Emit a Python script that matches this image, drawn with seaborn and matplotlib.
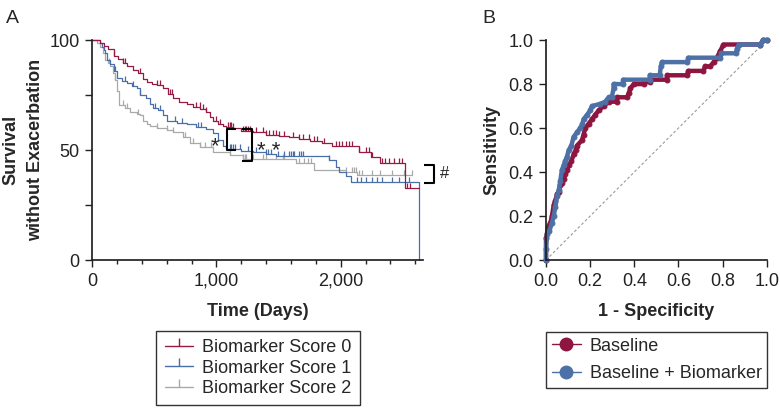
import numpy as np
import matplotlib
matplotlib.use('Agg')
import matplotlib.pyplot as plt
from matplotlib.lines import Line2D
from matplotlib.ticker import MultipleLocator, FixedLocator, FuncFormatter
import seaborn as sns

# ---- Panel A: Kaplan-Meier curves ----
km_labels = ['Biomarker Score 0', 'Biomarker Score 1', 'Biomarker Score 2']
km_colors = ['#961a45', '#4a6fa8', '#a9a9a9']

t_score0 = [0, 67, 100, 130, 173, 210, 250, 280, 330, 373, 410, 440, 480, 520, 573, 610, 653,
            700, 760, 813, 870, 920, 950, 973, 1010, 1050, 1080, 1133, 1200, 1293, 1400, 1507,
            1584, 1667, 1750, 1848, 1928, 2144, 2240, 2320, 2520, 2627]
s_score0 = [100, 98.8, 97.5, 96, 93, 91.5, 89.5, 88, 86.5, 85, 82.5, 81, 80, 79.5, 78, 75.5, 73.5,
            72, 71, 69.7, 68.5, 67.4, 65, 63, 62, 61, 60.5, 60, 58.5, 58, 57, 56.3,
            56, 55, 54, 53.2, 51.8, 49.2, 47, 44, 32.6, 32.6]
c_score0 = [173, 253, 267, 387, 520, 547, 627, 640, 840, 867, 893, 920, 1000, 1027, 1093, 1107,
            1120, 1133, 1213, 1227, 1240, 1253, 1267, 1320, 1373, 1400, 1427, 1453, 1480, 1507,
            1547, 1613, 1667, 1693, 1747, 1787, 1813, 1867, 1960, 1987, 2013, 2040, 2067, 2093,
            2147, 2200, 2227, 2253, 2333, 2360, 2387, 2427, 2467, 2493, 2533, 2560]

t_score1 = [0, 67, 80, 93, 107, 120, 147, 173, 200, 240, 280, 320, 360, 387, 430, 467, 493, 533,
            573, 600, 680, 760, 840, 920, 973, 1013, 1050, 1080, 1200, 1293, 1400, 1480, 1907,
            1960, 1987, 2040, 2080, 2627]
s_score1 = [100, 98.5, 97, 95.5, 94, 91, 89, 86, 82.6, 81.5, 80.3, 79, 78, 75, 73.5, 71, 69, 68,
            66, 63, 62.5, 62, 60.6, 59.5, 57.6, 54.5, 52, 50.5, 49.8, 49.2, 48.2, 47.3, 45.5,
            42.4, 40, 38, 35.6, 0]
c_score1 = [187, 267, 333, 387, 507, 547, 667, 720, 853, 880, 1107, 1120, 1133, 1147, 1187, 1253,
            1320, 1400, 1413, 1440, 1493, 1547, 1587, 1600, 1613, 1627, 1667, 1680, 1693, 1907,
            2133, 2160, 2200, 2253, 2293, 2333, 2413, 2467, 2547]

t_score2 = [0, 40, 67, 90, 107, 130, 147, 170, 187, 200, 213, 267, 307, 360, 387, 413, 440, 467,
            520, 600, 653, 733, 787, 867, 973, 1107, 1213, 1640, 1787, 2040, 2133, 2573]
s_score2 = [100, 98.5, 97, 94, 91, 89.5, 88, 85, 82, 77, 70.5, 69, 67.4, 66.5, 66, 63, 62, 61,
            60, 59, 58.3, 56, 53, 51.5, 49.2, 47.7, 45.8, 44, 41, 40, 38.6, 38.6]
c_score2 = [133, 187, 253, 280, 373, 520, 600, 653, 747, 813, 867, 907, 960, 1107, 1213, 1227,
            1240, 1293, 1373, 1400, 1480, 1533, 1547, 1667, 1707, 1733, 1760, 2040, 2093, 2107,
            2120, 2147, 2173, 2253, 2320, 2413, 2507, 2573]

# ---- Panel B: ROC curves ----
roc_labels = ['Baseline', 'Baseline + Biomarker']
roc_colors = ['#8e1540', '#4d70a6']
fpr_base = [0, 0, 0.01, 0.02, 0.027, 0.035, 0.042, 0.05, 0.057, 0.065, 0.072, 0.08, 0.087, 0.095,
            0.103, 0.115, 0.125, 0.135, 0.14, 0.163, 0.17, 0.178, 0.193, 0.208, 0.223, 0.238,
            0.261, 0.284, 0.321, 0.321, 0.367, 0.375, 0.382, 0.397, 0.442, 0.442, 0.472, 0.472,
            0.548, 0.548, 0.638, 0.645, 0.713, 0.72, 0.744, 0.759, 0.774, 0.789, 0.804, 0.97,
            0.985, 1.0]
tpr_base = [0, 0.10, 0.15, 0.17, 0.20, 0.25, 0.27, 0.30, 0.31, 0.34, 0.35, 0.37, 0.39, 0.41,
            0.43, 0.45, 0.48, 0.50, 0.52, 0.545, 0.57, 0.60, 0.62, 0.64, 0.66, 0.68,
            0.70, 0.72, 0.72, 0.74, 0.74, 0.76, 0.78, 0.80, 0.80, 0.81, 0.81, 0.82,
            0.82, 0.84, 0.84, 0.86, 0.86, 0.88, 0.88, 0.90, 0.92, 0.95, 0.98, 0.98,
            1.0, 1.0]
fpr_bio = [0, 0, 0.005, 0.015, 0.027, 0.035, 0.042, 0.05, 0.058, 0.065, 0.072, 0.08, 0.087,
           0.095, 0.103, 0.115, 0.125, 0.14, 0.155, 0.165, 0.17, 0.186, 0.2, 0.208, 0.246,
           0.268, 0.284, 0.298, 0.306, 0.306, 0.35, 0.35, 0.47, 0.47, 0.515, 0.52, 0.525, 0.64,
           0.645, 0.79, 0.795, 0.86, 0.865, 0.873, 0.97, 0.985, 1.0]
tpr_bio = [0, 0.05, 0.12, 0.13, 0.17, 0.20, 0.24, 0.29, 0.32, 0.36, 0.41, 0.43, 0.45,
           0.47, 0.50, 0.52, 0.56, 0.58, 0.60, 0.62, 0.64, 0.66, 0.68, 0.70, 0.71,
           0.72, 0.74, 0.74, 0.78, 0.80, 0.80, 0.82, 0.82, 0.84, 0.84, 0.88, 0.90, 0.90,
           0.92, 0.92, 0.94, 0.94, 0.96, 0.98, 0.98, 1.0, 1.0]

sns.set_theme(style='ticks')
plt.rcParams['font.family'] = ['Liberation Sans', 'DejaVu Sans']
plt.rcParams['axes.edgecolor'] = '#222222'
plt.rcParams['xtick.color'] = '#222222'
plt.rcParams['ytick.color'] = '#222222'

fig = plt.figure(figsize=(7.8, 4.08), dpi=100)
axA = fig.add_axes([0.118, 0.3627, 0.424, 0.539])
axB = fig.add_axes([0.700, 0.3627, 0.283, 0.539])

# ---- A ----
curves = [(t_score0, s_score0, c_score0), (t_score1, s_score1, c_score1), (t_score2, s_score2, c_score2)]
for (t, s, cens), col in zip(curves[::-1], km_colors[::-1]):
    sns.lineplot(x=t, y=s, drawstyle='steps-post', estimator=None, sort=False,
                 color=col, lw=0.9, ax=axA, legend=False, clip_on=False)
    idx = np.searchsorted(t, cens, side='right') - 1
    axA.plot(cens, np.array(s)[idx], ls='none', marker=2, ms=3.5, mew=0.9,
             color=col, clip_on=False)

axA.set_xlim(0, 2660)
axA.set_ylim(0, 100)
axA.xaxis.set_major_locator(FixedLocator([0, 1000, 2000]))
axA.xaxis.set_minor_locator(MultipleLocator(200))
axA.xaxis.set_major_formatter(FuncFormatter(lambda v, p: f'{int(v):,}'))
axA.yaxis.set_major_locator(FixedLocator([0, 50, 100]))
axA.yaxis.set_minor_locator(FixedLocator([25, 75]))
axA.tick_params(axis='both', which='major', labelsize=13, length=5, width=1, pad=4)
axA.tick_params(axis='x', which='minor', length=3, width=1)
axA.tick_params(axis='y', which='minor', length=5, width=1)
axA.set_xlabel('Time (Days)', fontsize=13, fontweight='bold', labelpad=10)
axA.set_ylabel('Survival\nwithout Exacerbation', fontsize=13, fontweight='bold',
               labelpad=3.5, linespacing=1.6)
sns.despine(ax=axA)

# significance brackets
bk = dict(color='black', lw=1.5, clip_on=False, solid_capstyle='butt')
axA.plot([1160, 1088, 1088, 1160], [59.8, 59.8, 50, 50], **bk)
axA.plot([1205, 1285, 1285, 1205], [59.8, 59.8, 45, 45], **bk)
axA.plot([2667, 2747, 2747, 2667], [43.2, 43.2, 35.2, 35.2], **bk)
axA.text(987, 51.5, '*', fontsize=16, ha='center', va='center')
axA.text(1420, 49.5, '* *', fontsize=16, ha='center', va='center')
axA.text(2800, 39.4, '#', fontsize=12, ha='left', va='center')

km_handles = [Line2D([], [], color=c, lw=1, marker=2, ms=6, mew=1) for c in km_colors]
legA = axA.legend(km_handles, km_labels, loc='upper center', bbox_to_anchor=(0.331, 0.189),
                  bbox_transform=fig.transFigure, frameon=True, fancybox=False,
                  edgecolor='black', fontsize=13, handlelength=1.6, labelspacing=0.2,
                  borderpad=0.45, handletextpad=0.5, borderaxespad=0)
legA.get_frame().set_linewidth(1)

# ---- B ----
axB.plot([0, 1], [0, 1], ls=(0, (2.5, 2)), color='#9a9a9a', lw=0.8)
for fx, ty, col in [(fpr_base, tpr_base, roc_colors[0]), (fpr_bio, tpr_bio, roc_colors[1])]:
    sns.lineplot(x=fx, y=ty, estimator=None, sort=False, color=col, lw=3.2, ax=axB,
                 legend=False, marker='o', ms=3.5, mec=col, clip_on=False)

axB.set_xlim(0, 1)
axB.set_ylim(0, 1)
axB.xaxis.set_major_locator(MultipleLocator(0.2))
axB.yaxis.set_major_locator(MultipleLocator(0.2))
axB.xaxis.set_major_formatter(FuncFormatter(lambda v, p: f'{v:.1f}'))
axB.yaxis.set_major_formatter(FuncFormatter(lambda v, p: f'{v:.1f}'))
axB.tick_params(axis='both', which='major', labelsize=13, length=5, width=1, pad=4)
axB.set_xlabel('1 - Specificity', fontsize=13, fontweight='bold', labelpad=10)
axB.set_ylabel('Sensitivity', fontsize=13, fontweight='bold', labelpad=6)
sns.despine(ax=axB)

roc_handles = [Line2D([], [], color=c, lw=1, marker='o', ms=9) for c in roc_colors]
legB = axB.legend(roc_handles, roc_labels, loc='upper center', bbox_to_anchor=(0.842, 0.186),
                  bbox_transform=fig.transFigure, frameon=True, fancybox=False,
                  edgecolor='black', fontsize=13, handlelength=1.6, labelspacing=0.6,
                  borderpad=0.3, handletextpad=0.5, borderaxespad=0)
legB.get_frame().set_linewidth(1)

fig.text(0.008, 0.975, 'A', fontsize=14, va='top', ha='left')
fig.text(0.618, 0.975, 'B', fontsize=14, va='top', ha='left')

fig.savefig('out.png', dpi=100)
